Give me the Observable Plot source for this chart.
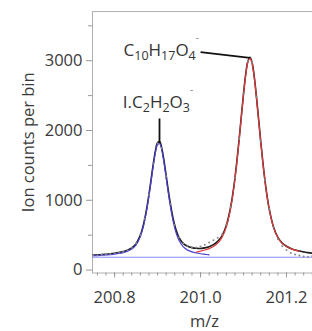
<!DOCTYPE html>
<html><head><meta charset="utf-8">
<script src="https://cdn.jsdelivr.net/npm/d3@7"></script>
<script src="https://cdn.jsdelivr.net/npm/@observablehq/plot@0.6"></script>
<style>html,body{margin:0;padding:0;background:#fff}</style>
</head><body><div id="chart"></div>
<script>
// m/z grid of the fitted curves
const mz = [200.75,200.76,200.77,200.78,200.79,200.80,200.81,200.82,200.83,200.84,
  200.85,200.86,200.865,200.87,200.875,200.88,200.885,200.89,200.895,200.90,
  200.905,200.91,200.915,200.92,200.925,200.93,200.935,200.94,200.945,200.95,
  200.96,200.97,200.98,200.99,201.00,201.01,201.02,201.03,201.04,201.05,
  201.06,201.07,201.075,201.08,201.085,201.09,201.095,201.10,201.105,201.11,
  201.115,201.12,201.125,201.13,201.135,201.14,201.145,201.15,201.155,201.16,
  201.17,201.18,201.19,201.20,201.21,201.22,201.23,201.24,201.25,201.26];
// total fit (black)
const fitTotal = [214,218,222,227,233,241,251,265,284,317,
  378,500,598,728,891,1085,1300,1519,1707,1825,
  1838,1741,1566,1353,1138,941,774,640,540,466,
  380,341,322,312,310,318,335,365,411,491,
  639,900,1087,1316,1585,1889,2211,2527,2801,2988,
  3050,2970,2770,2487,2168,1846,1545,1279,1054,870,
  614,468,387,341,310,289,273,261,250,242];
// I.C2H2O3- peak fit (blue)
const fitBlue = [205,208,212,216,222,229,238,251,270,301,
  361,482,579,708,870,1063,1278,1496,1683,1799,
  1811,1713,1537,1322,1105,907,738,602,499,423,
  332,286,261,245,234,226,219,null,null,null,
  null,null,null,null,null,null,null,null,null,null,
  null,null,null,null,null,null,null,null,null,null,
  null,null,null,null,null,null,null,null,null,null];
// C10H17O4- peak fit (red)
const fitRed = [null,null,null,null,null,null,null,null,null,null,
  null,null,null,null,null,null,null,null,null,null,
  null,null,null,null,null,null,null,null,null,null,
  null,null,null,258,271,287,308,339,386,469,
  619,883,1071,1301,1571,1875,2198,2515,2789,2977,
  3039,2960,2760,2478,2159,1837,1537,1271,1046,863,
  608,463,383,337,307,286,270,null,null,null];
// measured spectrum (grey dots)
const dataMz = [200.75,200.76,200.77,200.78,200.79,200.80,200.81,200.82,200.83,200.84,
  200.85,200.86,200.87,200.88,200.89,200.90,200.91,200.92,200.93,200.94,
  200.95,200.96,200.97,200.98,200.99,201.00,201.01,201.02,201.03,201.04,
  201.05,201.06,201.07,201.08,201.09,201.10,201.11,201.12,201.13,201.14,
  201.15,201.16,201.17,201.18,201.19,201.20,201.21,201.22,201.23,201.24,
  201.25,201.26];
const dataCounts = [210,213,218,224,231,240,250,264,286,320,
  383,505,735,1078,1528,1815,1748,1346,948,648,
  472,386,348,328,322,338,362,394,428,462,
  510,652,904,1322,1880,2534,2992,2974,2482,1851,
  1286,876,612,440,342,286,246,222,208,196,
  189,200];
const baselineCounts = 184;

// axes
const xDomain = [200.7486, 201.2605];
const yDomain = [-42, 3705];
const xTicks = [200.8, 201.0, 201.2];
const xTickLabels = ["200.8", "201.0", "201.2"];
const xMinorTicks = [200.76,200.78,200.80,200.82,200.84,200.86,200.88,200.90,200.92,200.94,200.96,200.98,
  201.00,201.02,201.04,201.06,201.08,201.10,201.12,201.14,201.16,201.18,201.20,201.22,201.24,201.26];
const yTicks = [0, 1000, 2000, 3000];
const yTickLabels = ["0", "1000", "2000", "3000"];
const yMinorTicks = [500, 1500, 2500, 3500];
const xTitle = "m/z";
const yTitle = "Ion counts per bin";

// peak annotations
const peakLabels = ["C_{10}H_{17}O_{4}^{-}", "I.C_{2}H_{2}O_{3}^{-}"];
const labelMz = [200.9964, 200.9011];
const labelCounts = [3152, 2407];
const leaderFromMz = [201.0, 200.9045];
const leaderFromCounts = [3122, 2172];
const leaderToMz = [201.1147, 200.9045];
const leaderToCounts = [3040, 1820];

const fitRows = mz.map((m, i) => ({mz: m, total: fitTotal[i], blue: fitBlue[i], red: fitRed[i]}));
const dataRows = dataMz.map((m, i) => ({mz: m, counts: dataCounts[i]}));
const labelRows = peakLabels.map((s, i) => ({label: s, mz: labelMz[i], counts: labelCounts[i]}));
const leaderRows = leaderFromMz.map((m, i) => ({x1: m, y1: leaderFromCounts[i], x2: leaderToMz[i], y2: leaderToCounts[i]}));

const chart = Plot.plot({
  width: 312, height: 331,
  marginLeft: 92, marginRight: 0, marginTop: 11, marginBottom: 58.5,
  style: {fontFamily: "'Open Sans', sans-serif", fontSize: "16px", color: "#3a3a3a", background: "#fff"},
  x: {domain: xDomain, label: null},
  y: {domain: yDomain, label: null},
  marks: [
    Plot.frame({stroke: "#b0b0b0"}),
    Plot.ruleY([baselineCounts], {stroke: "#8c8cff", strokeWidth: 1}),
    Plot.line(fitRows, {x: "mz", y: "total", stroke: "#1e1e1e", strokeWidth: 1.6, curve: "catmull-rom"}),
    Plot.line(fitRows.filter(d => d.blue != null), {x: "mz", y: "blue", stroke: "#4a3fd2", strokeWidth: 1.2, curve: "catmull-rom"}),
    Plot.line(fitRows.filter(d => d.red != null), {x: "mz", y: "red", stroke: "#e23a3a", strokeWidth: 1.2, curve: "catmull-rom"}),
    Plot.dot(dataRows, {x: "mz", y: "counts", r: 1, fill: "#8a8a8a", stroke: null}),
    Plot.axisX({ticks: xMinorTicks, tickSize: 3, tickFormat: () => "", stroke: "#999", label: null}),
    Plot.axisX({ticks: xTicks, tickSize: 5, tickPadding: 13.5, tickFormat: d => xTickLabels[xTicks.indexOf(d)], stroke: "#999", fill: "#3a3a3a", fontSize: 16.5, label: null}),
    Plot.axisY({ticks: yMinorTicks, tickSize: 4, tickFormat: () => "", stroke: "#999", label: null}),
    Plot.axisY({ticks: yTicks, tickSize: 6, tickPadding: 4, tickFormat: d => yTickLabels[yTicks.indexOf(d)], stroke: "#999", fill: "#3a3a3a", fontSize: 16.5, label: null}),
    Plot.text([xTitle], {frameAnchor: "bottom", textAnchor: "middle", lineAnchor: "middle", dy: 48.5, dx: 2, fontSize: 16.5, fill: "#3a3a3a"}),
    Plot.text([yTitle], {frameAnchor: "left", textAnchor: "middle", lineAnchor: "middle", rotate: -90, dx: -64, fontSize: 16.5, fill: "#3a3a3a"}),
    Plot.link(leaderRows, {x1: "x1", y1: "y1", x2: "x2", y2: "y2", stroke: "#111", strokeWidth: 1.8}),
    Plot.text(labelRows.slice(0, 1), {x: "mz", y: "counts", text: "label", textAnchor: "end", fontSize: 17, fill: "#333"}),
    Plot.text(labelRows.slice(1), {x: "mz", y: "counts", text: "label", textAnchor: "middle", fontSize: 17, fill: "#333"})
  ]
});

// turn _{..} / ^{..} markup into real subscript / superscript tspans
chart.querySelectorAll("text").forEach(t => {
  const s = t.textContent;
  if (!/[_^]\{/.test(s)) return;
  const re = /_\{([^}]*)\}|\^\{([^}]*)\}|([^_^]+)/g;
  const parts = [];
  let m;
  while ((m = re.exec(s))) {
    if (m[1] != null) parts.push({s: m[1], k: "sub"});
    else if (m[2] != null) parts.push({s: m[2], k: "sup"});
    else parts.push({s: m[3], k: "main"});
  }
  t.textContent = "";
  let cur = 0;
  for (const p of parts) {
    const off = p.k === "sub" ? 4 : p.k === "sup" ? -15 : 0;
    const ts = document.createElementNS("http://www.w3.org/2000/svg", "tspan");
    ts.setAttribute("dy", off - cur);
    cur = off;
    if (p.k === "sub") ts.setAttribute("font-size", 12.5);
    if (p.k === "sup") { ts.setAttribute("font-size", 10); ts.setAttribute("fill", "#888"); }
    ts.textContent = p.s;
    t.appendChild(ts);
  }
});

document.getElementById("chart").appendChild(chart);
</script>
</body></html>
